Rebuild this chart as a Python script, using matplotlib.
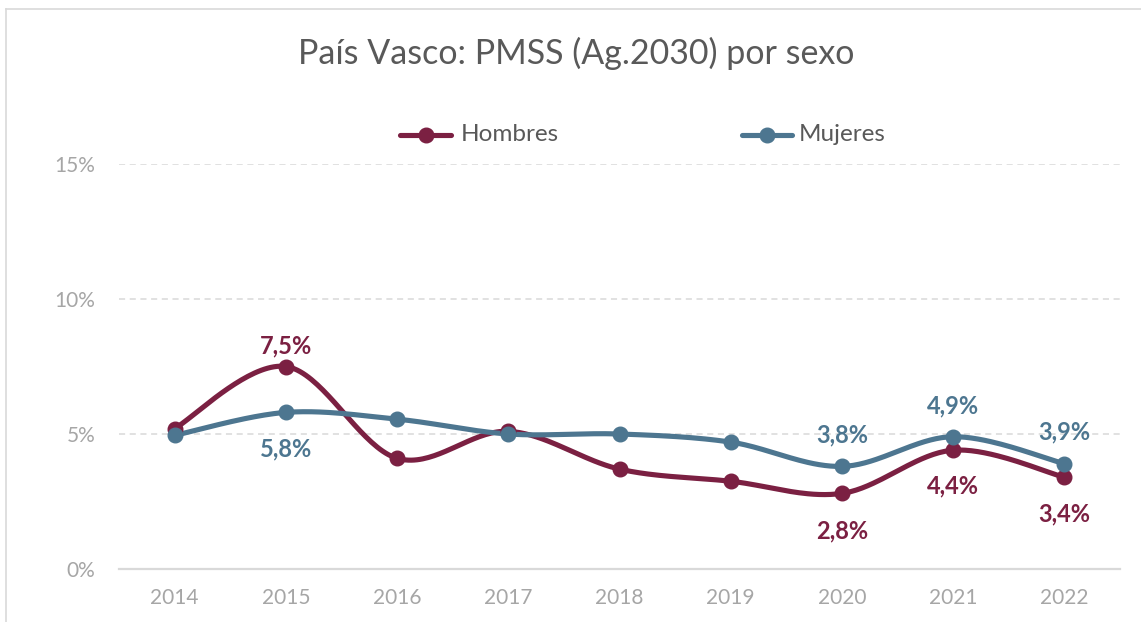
import numpy as np
import matplotlib
matplotlib.use("Agg")
import matplotlib.pyplot as plt
from matplotlib.lines import Line2D

years = ["2014", "2015", "2016", "2017", "2018", "2019", "2020", "2021", "2022"]
hombres = [5.2, 7.5, 4.1, 5.1, 3.7, 3.25, 2.8, 4.4, 3.4]
mujeres = [4.95, 5.8, 5.55, 5.0, 5.0, 4.7, 3.8, 4.9, 3.9]
yticks = [0, 5, 10, 15]
ytick_labels = ["0%", "5%", "10%", "15%"]
title = "País Vasco: PMSS (Ag.2030) por sexo"

# data labels: index -> vertical offset in points
h_labels = {1: 14.5, 6: -27, 7: -26, 8: -26.5}
m_labels = {1: -26.5, 6: 23, 7: 22.5, 8: 23}

C_H = "#7B2042"
C_M = "#4D7690"
FONT = ["Lato", "DejaVu Sans"]
plt.rcParams["font.family"] = FONT


def smooth(xs, ys, n=40):
    xs = np.asarray(xs, float)
    ys = np.asarray(ys, float)
    P = np.column_stack([xs, ys])
    out = []
    for i in range(len(P) - 1):
        p0 = P[i - 1] if i > 0 else P[i]
        p1 = P[i]
        p2 = P[i + 1]
        p3 = P[i + 2] if i + 2 < len(P) else P[i + 1]
        c1 = p1 + (p2 - p0) / 6.0
        c2 = p2 - (p3 - p1) / 6.0
        t = np.linspace(0, 1, n)[:, None]
        seg = ((1 - t) ** 3) * p1 + 3 * ((1 - t) ** 2) * t * c1 + 3 * (1 - t) * t ** 2 * c2 + t ** 3 * p2
        out.append(seg if i == 0 else seg[1:])
    s = np.vstack(out)
    return s[:, 0], s[:, 1]


fig = plt.figure(figsize=(11.41, 6.22), dpi=100)
ax = fig.add_axes([119 / 1141, 1 - 569 / 622, (1120 - 119) / 1141, (569 - 164) / 622])

x = np.arange(len(years))
for vals, col in [(hombres, C_H), (mujeres, C_M)]:
    sx, sy = smooth(x, vals)
    ax.plot(sx, sy, color=col, lw=3.7, solid_capstyle="round", zorder=3)
    ax.plot(x, vals, "o", color=col, ms=10.5, zorder=4)

for vals, col, d in [(hombres, C_H, h_labels), (mujeres, C_M, m_labels)]:
    for i, off in d.items():
        ax.annotate(f"{vals[i]:.1f}".replace(".", ",") + "%", (x[i], vals[i]),
                    xytext=(0, off), textcoords="offset points",
                    ha="center", va="center", fontsize=17, fontweight="bold", color=col, zorder=5)

ax.set_xlim(-0.5, len(years) - 0.5)
ax.set_ylim(0, 15)
ax.set_yticks(yticks)
ax.set_yticklabels(ytick_labels)
ax.set_xticks(x)
ax.set_xticklabels(years)
for yv in yticks[1:]:
    ax.axhline(yv, color="#D9D9D9", lw=1.1, ls=(0, (4, 3)), zorder=1)
for s in ["top", "right", "left"]:
    ax.spines[s].set_visible(False)
ax.spines["bottom"].set_color("#D9D9D9")
ax.spines["bottom"].set_linewidth(1.6)
ax.tick_params(axis="both", length=0, labelsize=15, colors="#A6A6A6")
ax.tick_params(axis="x", pad=14)
ax.tick_params(axis="y", pad=17)

fig.text(576 / 1141, 1 - 53 / 622, title, ha="center", va="center", fontsize=24.5, color="#595959")

# legend
ly = 1 - 135 / 622
for (x0, x1, tx, col, lab) in [(400, 451, 461, C_H, "Hombres"), (742, 792, 799, C_M, "Mujeres")]:
    fig.add_artist(Line2D([x0 / 1141, x1 / 1141], [ly, ly], color=col, lw=3.7, solid_capstyle="round"))
    fig.add_artist(Line2D([(x0 + x1) / 2 / 1141], [ly], marker="o", color=col, ms=10.5))
    fig.text(tx / 1141, ly, lab, ha="left", va="center", fontsize=17.5, color="#595959")

# chart border (top and left visible)
fig.add_artist(Line2D([6 / 1141, 1.0], [1 - 9 / 622, 1 - 9 / 622], color="#D9D9D9", lw=1.2))
fig.add_artist(Line2D([6 / 1141, 6 / 1141], [0, 1 - 9 / 622], color="#D9D9D9", lw=1.2))

fig.savefig("out.png", dpi=100, facecolor="white")
